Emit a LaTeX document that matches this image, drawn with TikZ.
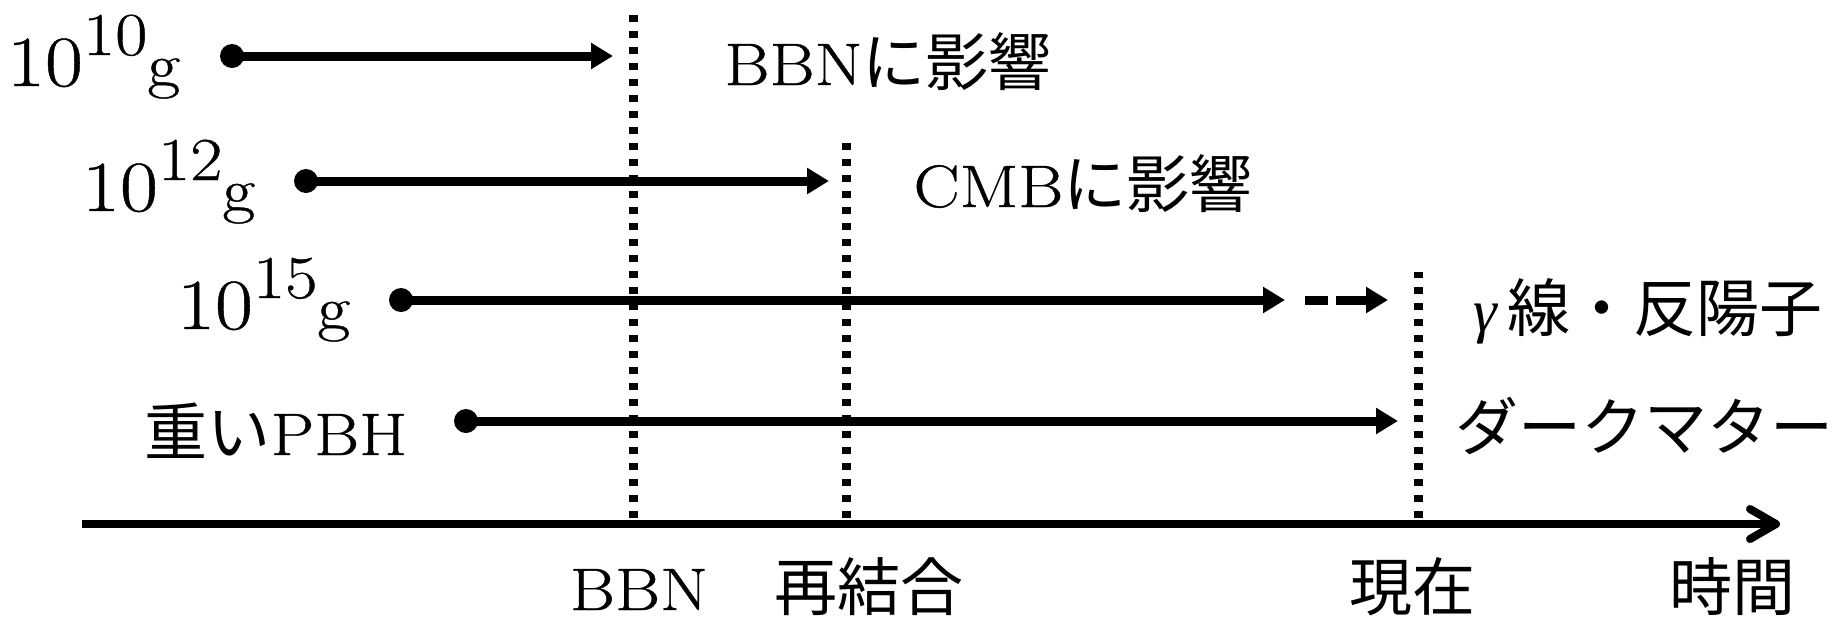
\documentclass[tikz,border=0pt]{standalone}
\usepackage{fontspec}
\setmainfont{Latin Modern Roman}[FakeStretch=1.15,FakeBold=0.6]
\newfontfamily\cjk{Noto Sans CJK JP}[Scale=1.05]
\newfontfamily\grk{Liberation Serif}
\usetikzlibrary{arrows.meta}
\newcommand\masslbl[1]{{\fontsize{72}{75}\selectfont 10}\raisebox{31pt}{\fontsize{61}{64}\selectfont #1}{\fontsize{62}{64}\selectfont g}}
\tikzset{
  lbl/.style={inner sep=0pt, outer sep=0pt, anchor=base, font=\fontsize{60}{66}\selectfont},
  mass/.style={inner sep=0pt, outer sep=0pt, anchor=base west},
  dot/.style={circle, fill=black, inner sep=0pt, minimum size=24pt},
  arr/.style={line width=9pt, -{Triangle[length=22pt,width=25pt]}},
  darr/.style={arr, dash pattern=on 23pt off 8pt on 30pt off 8pt},
  vdots/.style={line width=8.5pt, dash pattern=on 7.5pt off 8.5pt},
  axisline/.style={line width=8pt, -{Straight Barb[length=26pt,width=30pt,round]}},
}
\begin{document}
\begin{tikzpicture}[x=1pt,y=-1pt]
\useasboundingbox (0,0) rectangle (1847,619);

% dotted epoch lines
\coordinate (bbnB) at (633.5,518);  \coordinate (bbnT) at (633.5,6);
\coordinate (recB) at (846.5,518);  \coordinate (recT) at (846.5,140);
\coordinate (nowB) at (1418.5,518); \coordinate (nowT) at (1418.5,272);
\draw[vdots] (bbnB) -- (bbnT);
\draw[vdots] (recB) -- (recT);
\draw[vdots] (nowB) -- (nowT);

% time axis
\coordinate (axS) at (82,524);
\coordinate (axE) at (1780,524);
\draw[axisline] (axS) -- (axE);

% rows
\node[dot] (d1) at (232,56) {};
\coordinate (e1) at (613,56);
\draw[arr] (d1.center) -- (e1);

\node[dot] (d2) at (306,181) {};
\coordinate (e2) at (829,181);
\draw[arr] (d2.center) -- (e2);

\node[dot] (d3) at (401,300) {};
\coordinate (e3) at (1285,300);
\draw[arr] (d3.center) -- (e3);
\coordinate (f3s) at (1305,300);
\coordinate (f3e) at (1388,300);
\draw[darr] (f3s) -- (f3e);

\node[dot] (d4) at (466,421) {};
\coordinate (e4) at (1398,421);
\draw[arr] (d4.center) -- (e4);

% mass labels
\node[mass] (m1) at (7,86) {\masslbl{10}};
\node[mass] (m2) at (82,211) {\masslbl{12}};
\node[mass] (m3) at (177,329) {\masslbl{15}};
\node[lbl] (m4) at (276,455) {{\cjk 重い}PBH};

% effect labels
\node[lbl] (t1) at (888,85) {BBN{\cjk に影響}};
\node[lbl] (t2) at (1083,207) {CMB{\cjk に影響}};
\node[lbl] (t3) at (1648,331) {{\grk\itshape γ}\,{\cjk 線・反陽子}};
\node[lbl] (t4) at (1644,450) {{\cjk ダークマター}};

% axis labels
\node[lbl] (a1) at (639,610) {BBN};
\node[lbl] (a2) at (869,610) {{\cjk 再結合}};
\node[lbl] (a3) at (1412,610) {{\cjk 現在}};
\node[lbl] (a4) at (1732,610) {{\cjk 時間}};
\end{tikzpicture}
\end{document}
